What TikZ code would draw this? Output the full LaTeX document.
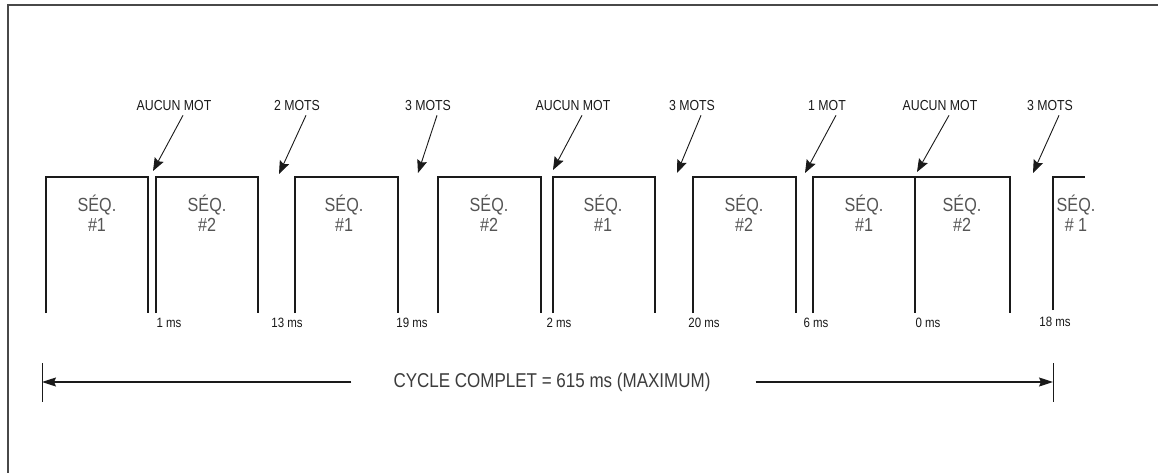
\documentclass[tikz,border=0pt]{standalone}
\usepackage{fontspec}
\setmainfont[FakeStretch=0.85]{Liberation Sans}
\usetikzlibrary{arrows.meta}
\definecolor{seqgray}{HTML}{555555}
\definecolor{ink}{HTML}{1A1A1A}
\tikzset{
  frameline/.style={line width=1.6pt, draw=ink!80},
  pulse/.style={line width=2.2pt, draw=ink},
  midline/.style={line width=1.3pt, draw=ink},
  wlab/.style={font=\fontsize{14.5}{16}\selectfont, text=ink, inner sep=1pt},
  mslab/.style={font=\fontsize{13.5}{15}\selectfont, text=ink, inner sep=1pt},
  seqlab/.style={font=\fontsize{19}{20}\selectfont, text=seqgray, align=center, inner sep=0pt},
  warrow/.style={line width=0.9pt, draw=ink, -{Stealth[length=13pt,width=10pt,inset=2pt]}},
  cycarrow/.style={line width=1.2pt, draw=ink, -{Stealth[length=14pt,width=9pt,inset=2pt]}},
  cyclab/.style={font=\fontsize{20}{22}\selectfont, text=ink!85, inner sep=0pt},
  tick/.style={line width=1pt, draw=ink}
}
\begin{document}
\begin{tikzpicture}[x=1pt,y=-1pt]
\useasboundingbox (0,0) rectangle (1158,473);
\fill[white] (0,0) rectangle (1158,473);
% frame
\draw[frameline] (8,473) -- (8,5) -- (1158,5);
% pulses
\draw[pulse] (46,313) -- (46,177) -- (148,177) -- (148,313);
\draw[pulse] (156,313) -- (156,177) -- (258,177) -- (258,313);
\draw[pulse] (295,313) -- (295,177) -- (398,177) -- (398,313);
\draw[pulse] (438,313) -- (438,177) -- (541,177) -- (541,313);
\draw[pulse] (553,313) -- (553,177) -- (655,177) -- (655,313);
\draw[pulse] (693,313) -- (693,177) -- (796,177) -- (796,313);
\draw[pulse] (813,313) -- (813,177) -- (1010,177) -- (1010,313);
\draw[midline] (915,177) -- (915,313);
\draw[pulse] (1053,310) -- (1053,177) -- (1085,177);
% sequence labels
\node[seqlab] (s1) at (97,213) {SÉQ.\\\#1};
\node[seqlab] (s2) at (207,213) {SÉQ.\\\#2};
\node[seqlab] (s3) at (344,213) {SÉQ.\\\#1};
\node[seqlab] (s4) at (489,213) {SÉQ.\\\#2};
\node[seqlab] (s5) at (603,213) {SÉQ.\\\#1};
\node[seqlab] (s6) at (744,213) {SÉQ.\\\#2};
\node[seqlab] (s7) at (864,213) {SÉQ.\\\#1};
\node[seqlab] (s8) at (962,213) {SÉQ.\\\#2};
\node[seqlab] (s9) at (1076,213) {SÉQ.\\\# 1};
% word labels and arrows
\node[wlab] (w1) at (174,106) {AUCUN MOT};
\node[wlab] (w2) at (297,106) {2 MOTS};
\node[wlab] (w3) at (428,106) {3 MOTS};
\node[wlab] (w4) at (573,106) {AUCUN MOT};
\node[wlab] (w5) at (692,106) {3 MOTS};
\node[wlab] (w6) at (827,106) {1 MOT};
\node[wlab] (w7) at (940,106) {AUCUN MOT};
\node[wlab] (w8) at (1050,106) {3 MOTS};
\coordinate (t1) at (153,171);
\coordinate (t2) at (279,174);
\coordinate (t3) at (418,173);
\coordinate (t4) at (553,170);
\coordinate (t5) at (677,173);
\coordinate (t6) at (805,173);
\coordinate (t7) at (917,172);
\coordinate (t8) at (1033,173);
\foreach \i in {1,...,8}{
  \draw[warrow] ([xshift=9pt,yshift=-3pt]w\i.south) -- (t\i);
}
% time labels
\node[mslab] (m1) at (169,323) {1 ms};
\node[mslab] (m2) at (287,323) {13 ms};
\node[mslab] (m3) at (412,323) {19 ms};
\node[mslab] (m4) at (559,323) {2 ms};
\node[mslab] (m5) at (704,323) {20 ms};
\node[mslab] (m6) at (816,323) {6 ms};
\node[mslab] (m7) at (928,323) {0 ms};
\node[mslab] (m8) at (1055,322) {18 ms};
% full cycle
\node[cyclab] (cyc) at (552,382) {CYCLE COMPLET = 615 ms (MAXIMUM)};
\coordinate (tl) at (42,382);
\coordinate (tr) at (1053,382);
\draw[tick] (42,363) -- (42,402);
\draw[tick] (1053,363) -- (1053,402);
\draw[cycarrow] ([xshift=-42pt]cyc.west) -- (tl);
\draw[cycarrow] ([xshift=45pt]cyc.east) -- (tr);
\end{tikzpicture}
\end{document}
